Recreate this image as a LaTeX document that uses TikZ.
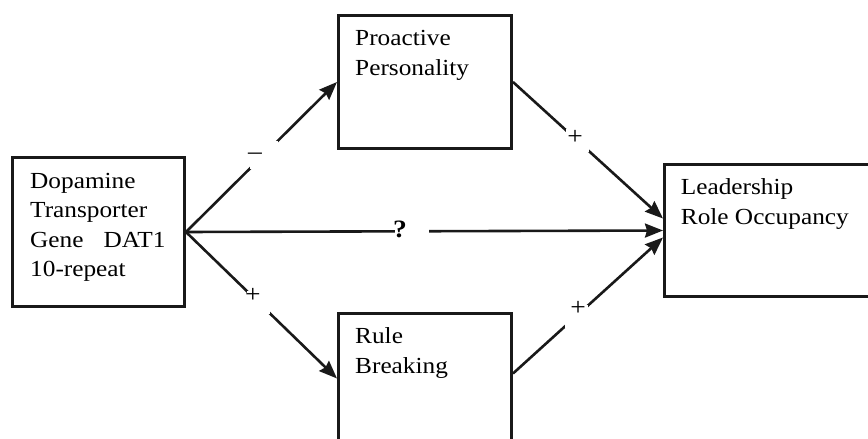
\documentclass[tikz,border=0pt]{standalone}
\usepackage{fontspec}
\setmainfont[FakeStretch=1.1]{Liberation Serif}
\usetikzlibrary{arrows.meta}
\begin{document}
\begin{tikzpicture}[x=1pt,y=-1pt,
  box/.style={draw=black!90, line width=3pt, inner sep=0, anchor=north west},
  txt/.style={anchor=base west, inner sep=0, align=left, font=\fontsize{23}{29.5}\selectfont},
  conn/.style={draw=black!90, line width=2.6pt, -{Stealth[length=18pt,width=14pt,inset=2pt]}},
  gapnode/.style={fill=white, inner sep=0, minimum size=23pt},
  lbl/.style={inner sep=0, font=\fontsize{25}{29}\selectfont}]
\useasboundingbox (0,0) rectangle (868,439);
\clip (0,0) rectangle (868,439);
% boxes
\node[box, minimum width=172pt, minimum height=149pt] (L) at (11,156) {};
\node[box, minimum width=173pt, minimum height=133pt] (P) at (337,14) {};
\node[box, minimum width=173pt, minimum height=130pt] (R) at (337,312) {};
\node[box, minimum width=217pt, minimum height=132pt] (O) at (663,163) {};
% texts (base anchor = last line baseline)
\node[txt] (Lt) at (30,276.7) {Dopamine\\Transporter\\Gene\hspace{20pt}DAT1\\10-repeat};
\node[txt] (Pt) at (355,75) {Proactive\\Personality};
\node[txt] (Rt) at (355,373) {Rule\\Breaking};
\node[txt] (Ot) at (680.7,224) {Leadership\\Role Occupancy};
% connectors
\draw[conn] (L.east) -- node[gapnode, minimum size=28pt, pos=0.516] (g1) {} (P.west);
\draw[conn] (L.east) -- node[gapnode, pos=0.48] (g2) {} (R.west);
\draw[conn] (L.east) -- node[gapnode, minimum width=34pt, minimum height=8pt, pos=0.473] (g3) {} (O.west);
\draw[conn] (P.east) -- node[gapnode, pos=0.43] (g4) {} ([yshift=12pt]O.west);
\draw[conn] ([yshift=5pt]R.east) -- node[gapnode, pos=0.42] (g5) {} ([yshift=-7pt]O.west);
% labels
\node[lbl] (l1) at (255,156) {--};
\node[lbl] (l2) at (253,295) {+};
\node[lbl] (l3) at (400,229) {\textbf{?}};
\node[lbl] (l4) at (575,137) {+};
\node[lbl] (l5) at (578,308.5) {+};
\end{tikzpicture}
\end{document}
